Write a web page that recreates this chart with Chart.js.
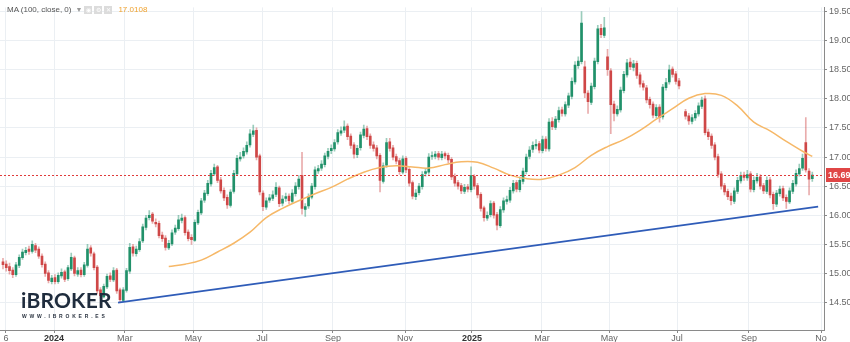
<!DOCTYPE html>
<html>
<head>
<meta charset="utf-8">
<script src="https://cdn.jsdelivr.net/npm/chart.js@4.4.1/dist/chart.umd.min.js"></script>
<style>
  html, body { margin: 0; padding: 0; background: #fff; }
  #wrap { position: relative; width: 850px; height: 342px; overflow: hidden; }
  #chart { display: block; }
  .legend {
    position: absolute; left: 7px; top: 5px;
    font: 8px "Liberation Sans", Arial, sans-serif; color: #555;
    display: flex; align-items: center; white-space: nowrap;
  }
  .legend .caret { margin-left: 4px; color: #999; font-size: 7px; }
  .legend .btn {
    width: 8px; height: 8px; margin-left: 2px; background: #dcdcdc;
    color: #fff; font-size: 6px; line-height: 8px; text-align: center;
  }
  .legend .btn:first-of-type { margin-left: 6px; }
  .legend .val { margin-left: 6px; color: #f0a22e; }
  .brand {
    position: absolute; left: 21px; top: 287px;
    font: 700 21px Lato, "Open Sans", sans-serif; color: #1f2c3d; letter-spacing: 0.2px;
  }
  .site {
    position: absolute; left: 22px; top: 313px;
    font: 700 5px "Liberation Sans", Arial, sans-serif; color: #2a3340; letter-spacing: 2.8px;
  }
</style>
</head>
<body>
<div id="wrap">
  <canvas id="chart" width="850" height="342"></canvas>
  <div class="legend">
    <span>MA (100, close, 0)</span><span class="caret">▼</span>
    <span class="btn">◉</span><span class="btn">⚙</span><span class="btn">✕</span>
    <span class="val" id="ma-last"></span>
  </div>
  <div class="brand">iBROKER</div>
  <div class="site">WWW.IBROKER.ES</div>
</div>
<script>
// x axis: bar index; month ticks fall between bars
const tickPos = [0.9, 15.7, 37.5, 58.5, 79.7, 101.5, 123.7, 144.3, 165.8, 186.5, 207.4, 229.5, 251.7];
const tickLabels = ['6', '2024', 'Mar', 'May', 'Jul', 'Sep', 'Nov', '2025', 'Mar', 'May', 'Jul', 'Sep', 'No'];
const yTicks = [14.5, 15, 15.5, 16, 16.5, 17, 17.5, 18, 18.5, 19, 19.5];

const opens = [
  15.20, 15.16, 15.12, 15.06, 14.98, 15.14, 15.27, 15.36, 15.42, 15.38,
  15.48, 15.42, 15.30, 15.16, 15.01, 14.86, 14.93, 14.86, 14.96, 15.03,
  14.91, 15.08, 15.27, 14.99, 15.06, 14.98, 15.14, 15.44, 15.34, 15.11,
  14.72, 14.60, 14.77, 14.96, 14.89, 15.06, 14.72, 14.54, 14.71, 15.04,
  15.46, 15.34, 15.41, 15.56, 15.79, 15.96, 16.02, 15.88, 15.86, 15.66,
  15.61, 15.44, 15.51, 15.71, 15.77, 15.91, 15.96, 15.71, 15.62, 15.57,
  15.87, 16.04, 16.26, 16.37, 16.54, 16.71, 16.83, 16.61, 16.43, 16.31,
  16.17, 16.41, 16.71, 16.97, 17.02, 17.09, 17.21, 17.39, 17.46, 17.02,
  16.38, 16.14, 16.26, 16.29, 16.36, 16.47, 16.21, 16.29, 16.33, 16.24,
  16.37, 16.49, 16.68, 16.10, 16.16, 16.31, 16.49, 16.76, 16.81, 16.87,
  17.01, 17.11, 17.14, 17.26, 17.41, 17.46, 17.53, 17.36, 17.21, 17.04,
  17.16, 17.37, 17.49, 17.36, 17.21, 17.16, 17.03, 16.58, 16.86, 17.26,
  17.16, 17.01, 16.94, 16.74, 16.98, 16.79, 16.56, 16.32, 16.39, 16.49,
  16.72, 16.74, 17.01, 17.01, 17.06, 16.99, 17.06, 17.03, 16.96, 16.67,
  16.56, 16.51, 16.41, 16.49, 16.44, 16.67, 16.51, 16.36, 16.13, 15.95,
  16.01, 16.21, 16.01, 15.82, 16.09, 16.24, 16.26, 16.42, 16.56, 16.44,
  16.58, 16.75, 17.01, 17.13, 17.19, 17.23, 17.11, 17.31, 17.14, 17.61,
  17.51, 17.64, 17.81, 17.74, 17.89, 18.04, 18.29, 18.57, 18.64, 18.55,
  18.10, 17.94, 18.21, 18.64, 19.21, 19.09, 18.72, 18.48, 17.91, 17.74,
  17.81, 18.14, 18.41, 18.63, 18.54, 18.61, 18.41, 18.26, 18.19, 17.99,
  17.91, 17.71, 17.86, 17.69, 18.19, 18.29, 18.51, 18.43, 18.31, null,
  17.78, 17.71, 17.61, 17.67, 17.74, 17.87, 18.00, 17.43, 17.36, 17.21,
  17.01, 16.71, 16.51, 16.41, 16.33, 16.24, 16.41, 16.59, 16.69, 16.64,
  16.71, 16.44, 16.59, 16.66, 16.51, 16.41, 16.61, 16.36, 16.19, 16.37,
  16.46, 16.31, 16.23, 16.41, 16.54, 16.71, 16.81, 17.25, 16.76, 16.63
];
const highs = [
  15.26, 15.22, 15.18, 15.10, 15.19, 15.32, 15.42, 15.45, 15.47, 15.56,
  15.52, 15.46, 15.34, 15.20, 15.05, 14.97, 14.98, 15.01, 15.08, 15.06,
  15.14, 15.35, 15.30, 15.10, 15.10, 15.19, 15.50, 15.48, 15.37, 15.14,
  14.76, 14.82, 14.99, 15.01, 15.10, 15.09, 14.75, 14.76, 15.09, 15.52,
  15.50, 15.47, 15.60, 15.85, 16.00, 16.08, 16.05, 15.94, 15.90, 15.71,
  15.65, 15.57, 15.75, 15.83, 16.00, 16.02, 15.99, 15.75, 15.67, 15.92,
  16.09, 16.29, 16.43, 16.60, 16.77, 16.88, 16.86, 16.65, 16.47, 16.35,
  16.44, 16.77, 17.03, 17.08, 17.16, 17.26, 17.47, 17.55, 17.50, 17.05,
  16.42, 16.30, 16.36, 16.42, 16.56, 16.50, 16.34, 16.38, 16.37, 16.44,
  16.56, 16.68, 17.08, 16.20, 16.37, 16.55, 16.83, 16.86, 16.94, 17.07,
  17.15, 17.21, 17.30, 17.47, 17.52, 17.62, 17.57, 17.40, 17.25, 17.20,
  17.43, 17.55, 17.53, 17.40, 17.26, 17.20, 17.06, 16.90, 17.32, 17.32,
  17.20, 17.05, 16.98, 17.02, 17.01, 16.82, 16.59, 16.44, 16.55, 16.75,
  16.80, 17.06, 17.09, 17.10, 17.10, 17.10, 17.09, 17.07, 16.99, 16.71,
  16.60, 16.55, 16.53, 16.53, 16.83, 16.70, 16.55, 16.39, 16.16, 16.06,
  16.25, 16.24, 16.05, 16.15, 16.30, 16.33, 16.48, 16.60, 16.60, 16.66,
  16.81, 17.05, 17.18, 17.26, 17.30, 17.27, 17.36, 17.35, 17.66, 17.68,
  17.70, 17.86, 17.86, 17.95, 18.10, 18.36, 18.64, 18.72, 19.50, 18.65,
  18.14, 18.27, 18.70, 19.26, 19.28, 19.40, 18.85, 18.52, 17.96, 17.88,
  18.20, 18.47, 18.68, 18.70, 18.66, 18.65, 18.45, 18.31, 18.23, 18.03,
  17.95, 17.90, 17.90, 18.25, 18.35, 18.58, 18.55, 18.47, 18.35, null,
  17.82, 17.75, 17.73, 17.80, 17.93, 18.03, 18.05, 17.48, 17.40, 17.25,
  17.05, 16.75, 16.55, 16.45, 16.38, 16.47, 16.65, 16.74, 16.74, 16.77,
  16.75, 16.66, 16.72, 16.70, 16.55, 16.66, 16.65, 16.40, 16.43, 16.50,
  16.50, 16.35, 16.47, 16.60, 16.78, 16.88, 17.05, 17.68, 16.80, 16.74
];
const lows = [
  15.08, 15.04, 14.99, 14.93, 14.95, 15.10, 15.24, 15.32, 15.33, 15.35,
  15.36, 15.26, 15.11, 14.95, 14.84, 14.82, 14.82, 14.83, 14.92, 14.86,
  14.88, 15.05, 14.96, 14.95, 14.94, 14.95, 15.11, 15.30, 15.06, 14.65,
  14.57, 14.58, 14.74, 14.86, 14.86, 14.66, 14.50, 14.52, 14.68, 15.00,
  15.30, 15.30, 15.38, 15.53, 15.75, 15.92, 15.86, 15.80, 15.61, 15.55,
  15.40, 15.41, 15.48, 15.67, 15.74, 15.87, 15.66, 15.56, 15.50, 15.55,
  15.84, 16.01, 16.22, 16.34, 16.50, 16.68, 16.56, 16.38, 16.25, 16.12,
  16.14, 16.38, 16.68, 16.93, 16.98, 17.05, 17.17, 17.35, 16.95, 16.35,
  16.08, 16.10, 16.22, 16.25, 16.32, 16.15, 16.16, 16.24, 16.20, 16.20,
  16.33, 16.45, 16.02, 15.98, 16.12, 16.28, 16.45, 16.72, 16.77, 16.83,
  16.97, 17.06, 17.10, 17.22, 17.37, 17.42, 17.30, 17.15, 16.98, 16.99,
  17.12, 17.33, 17.30, 17.15, 17.10, 16.97, 16.40, 16.55, 16.82, 17.10,
  16.95, 16.88, 16.70, 16.71, 16.73, 16.50, 16.28, 16.27, 16.35, 16.45,
  16.67, 16.70, 16.96, 16.97, 16.95, 16.95, 16.97, 16.90, 16.61, 16.50,
  16.45, 16.37, 16.37, 16.40, 16.40, 16.45, 16.30, 16.07, 15.90, 15.91,
  15.97, 15.95, 15.75, 15.79, 16.05, 16.19, 16.22, 16.38, 16.40, 16.40,
  16.54, 16.71, 16.97, 17.08, 17.14, 17.07, 17.07, 17.10, 17.10, 17.47,
  17.47, 17.60, 17.70, 17.70, 17.85, 18.00, 18.25, 18.52, 18.60, 18.02,
  17.75, 17.90, 18.17, 18.60, 19.05, 19.05, 18.40, 17.40, 17.62, 17.70,
  17.77, 18.10, 18.37, 18.50, 18.48, 18.35, 18.20, 18.15, 17.93, 17.84,
  17.67, 17.67, 17.60, 17.65, 18.15, 18.25, 18.37, 18.25, 18.17, null,
  17.65, 17.56, 17.57, 17.63, 17.70, 17.83, 17.38, 17.30, 17.15, 16.95,
  16.65, 16.45, 16.35, 16.27, 16.18, 16.20, 16.37, 16.55, 16.60, 16.60,
  16.40, 16.40, 16.55, 16.45, 16.37, 16.37, 16.30, 16.10, 16.15, 16.33,
  16.25, 16.12, 16.20, 16.37, 16.50, 16.67, 16.77, 16.74, 16.35, 16.58
];
const closes = [
  15.15, 15.10, 15.05, 14.98, 15.15, 15.28, 15.37, 15.40, 15.38, 15.50,
  15.40, 15.30, 15.15, 15.00, 14.88, 14.92, 14.86, 14.97, 15.02, 14.90,
  15.10, 15.28, 15.00, 15.05, 14.98, 15.15, 15.42, 15.35, 15.10, 14.70,
  14.62, 14.78, 14.95, 14.90, 15.05, 14.70, 14.55, 14.72, 15.05, 15.45,
  15.35, 15.42, 15.55, 15.80, 15.95, 16.00, 15.90, 15.85, 15.65, 15.60,
  15.45, 15.52, 15.70, 15.78, 15.92, 15.95, 15.70, 15.60, 15.58, 15.88,
  16.05, 16.25, 16.38, 16.55, 16.72, 16.82, 16.60, 16.42, 16.30, 16.18,
  16.40, 16.72, 16.98, 17.00, 17.10, 17.20, 17.40, 17.45, 17.00, 16.40,
  16.15, 16.25, 16.30, 16.35, 16.48, 16.20, 16.28, 16.32, 16.25, 16.38,
  16.50, 16.62, 16.12, 16.15, 16.32, 16.50, 16.78, 16.80, 16.88, 17.02,
  17.10, 17.15, 17.25, 17.42, 17.45, 17.52, 17.35, 17.20, 17.05, 17.15,
  17.38, 17.48, 17.35, 17.20, 17.15, 17.02, 16.60, 16.85, 17.25, 17.15,
  17.00, 16.93, 16.75, 16.97, 16.78, 16.55, 16.33, 16.38, 16.50, 16.70,
  16.75, 17.00, 17.02, 17.05, 17.00, 17.05, 17.02, 16.95, 16.66, 16.55,
  16.50, 16.42, 16.48, 16.45, 16.68, 16.50, 16.35, 16.12, 15.96, 16.00,
  16.20, 16.00, 15.83, 16.10, 16.25, 16.27, 16.43, 16.55, 16.45, 16.60,
  16.76, 17.00, 17.12, 17.20, 17.22, 17.12, 17.30, 17.15, 17.60, 17.52,
  17.65, 17.80, 17.75, 17.90, 18.05, 18.30, 18.58, 18.65, 19.30, 18.10,
  17.95, 18.22, 18.65, 19.20, 19.10, 19.22, 18.50, 17.90, 17.75, 17.82,
  18.15, 18.42, 18.62, 18.55, 18.60, 18.40, 18.25, 18.20, 17.98, 17.90,
  17.72, 17.85, 17.68, 18.20, 18.28, 18.50, 18.42, 18.30, 18.22, null,
  17.70, 17.62, 17.68, 17.75, 17.88, 17.98, 17.42, 17.35, 17.20, 17.00,
  16.70, 16.50, 16.40, 16.32, 16.25, 16.42, 16.60, 16.68, 16.65, 16.70,
  16.45, 16.60, 16.65, 16.50, 16.42, 16.60, 16.35, 16.20, 16.38, 16.45,
  16.30, 16.24, 16.42, 16.55, 16.72, 16.80, 16.98, 16.78, 16.62, 16.69
];

// MA(100) read at every fifth bar
const maIndex = [51, 56, 61, 66, 71, 76, 81, 86, 91, 96, 101, 106, 111, 116, 121, 126, 131, 136, 141, 146,
  151, 156, 161, 166, 171, 176, 181, 186, 191, 196, 201, 206, 211, 216, 221, 226, 231, 236, 241, 246, 249];
const maValues = [15.12, 15.16, 15.23, 15.37, 15.52, 15.71, 15.96, 16.12, 16.25, 16.37, 16.48, 16.62, 16.74, 16.82,
  16.85, 16.83, 16.81, 16.87, 16.92, 16.91, 16.81, 16.69, 16.63, 16.62, 16.69, 16.82, 17.03, 17.18, 17.30, 17.46,
  17.65, 17.83, 18.01, 18.09, 18.06, 17.88, 17.60, 17.45, 17.27, 17.10, 17.0108];

// support line
const trendX = [35.4, 250.8];
const trendY = [14.5, 16.15];

const priceLevel = closes[closes.length - 1];

const UP = '#21916a', DOWN = '#cf4747';
const UP_WICK = 'rgba(33,145,106,0.45)', DOWN_WICK = 'rgba(207,71,71,0.45)';

const idx = [];
closes.forEach((c, i) => { if (c !== null) idx.push(i); });

const isUp = i => closes[i] >= opens[i];

document.getElementById('ma-last').textContent = maValues[maValues.length - 1].toFixed(4);

const priceTag = {
  id: 'priceTag',
  afterDatasetsDraw(chart) {
    const { ctx, chartArea, scales: { y } } = chart;
    const py = Math.round(y.getPixelForValue(priceLevel)) + 0.5;
    ctx.save();
    ctx.strokeStyle = '#e03a3a';
    ctx.lineWidth = 1;
    ctx.setLineDash([2, 2]);
    ctx.beginPath();
    ctx.moveTo(chartArea.left, py);
    ctx.lineTo(chartArea.right, py);
    ctx.stroke();
    ctx.restore();
  },
  afterDraw(chart) {
    const { ctx, chartArea, scales: { y } } = chart;
    const py = Math.round(y.getPixelForValue(priceLevel));
    ctx.save();
    ctx.fillStyle = '#e04646';
    ctx.fillRect(chartArea.right + 2, py - 7, 26, 14);
    ctx.fillStyle = '#fff';
    ctx.font = 'bold 9px "Liberation Sans", Arial, sans-serif';
    ctx.textBaseline = 'middle';
    ctx.fillText(priceLevel.toFixed(2), chartArea.right + 4, py + 0.5);
    ctx.restore();
  }
};

new Chart(document.getElementById('chart'), {
  type: 'bar',
  data: {
    datasets: [
      {
        type: 'line',
        data: [{ x: trendX[0], y: trendY[0] }, { x: trendX[1], y: trendY[1] }],
        borderColor: '#2f5cb8',
        borderWidth: 1.8,
        pointRadius: 0,
        order: 0
      },
      {
        type: 'line',
        data: maIndex.map((x, k) => ({ x, y: maValues[k] })),
        borderColor: '#f6b868',
        borderWidth: 1.5,
        pointRadius: 0,
        tension: 0.4,
        order: 1
      },
      {
        data: idx.map(i => ({ x: i, y: [opens[i], closes[i]] })),
        backgroundColor: idx.map(i => isUp(i) ? UP : DOWN),
        barThickness: 2,
        minBarLength: 1,
        grouped: false,
        order: 3
      },
      {
        data: idx.map(i => ({ x: i, y: [lows[i], highs[i]] })),
        backgroundColor: idx.map(i => isUp(i) ? UP_WICK : DOWN_WICK),
        barThickness: 1,
        grouped: false,
        order: 4
      }
    ]
  },
  options: {
    responsive: false,
    animation: false,
    devicePixelRatio: 1,
    layout: { padding: 0 },
    plugins: { legend: { display: false }, tooltip: { enabled: false } },
    scales: {
      x: {
        type: 'linear',
        min: -0.92,
        max: 252.6,
        offset: false,
        afterBuildTicks: scale => { scale.ticks = tickPos.map(v => ({ value: v })); },
        afterFit: scale => { scale.height = 12; },
        grid: { color: '#ebeff3', offset: false, tickLength: 3, tickColor: '#888' },
        border: { color: '#8a8a8a', width: 1 },
        ticks: {
          autoSkip: false,
          maxRotation: 0,
          padding: 0,
          callback: (v, i) => tickLabels[i],
          color: c => /^\d{4}$/.test(tickLabels[c.index]) ? '#333' : '#666',
          font: c => ({
            family: '"Liberation Sans", Arial, sans-serif',
            size: 9,
            weight: /^\d{4}$/.test(tickLabels[c.index]) ? 'bold' : 'normal'
          })
        }
      },
      y: {
        type: 'linear',
        position: 'right',
        min: 14.03,
        max: 19.57,
        afterBuildTicks: scale => { scale.ticks = yTicks.map(v => ({ value: v })); },
        afterFit: scale => { scale.width = 26; },
        grid: { color: '#ebeff3', tickLength: 3, tickColor: '#888' },
        border: { color: '#8a8a8a', width: 1 },
        ticks: {
          padding: 2,
          color: '#666',
          font: { family: '"Liberation Sans", Arial, sans-serif', size: 9 },
          callback: v => v.toFixed(2)
        }
      }
    }
  },
  plugins: [priceTag]
});
</script>
</body>
</html>
